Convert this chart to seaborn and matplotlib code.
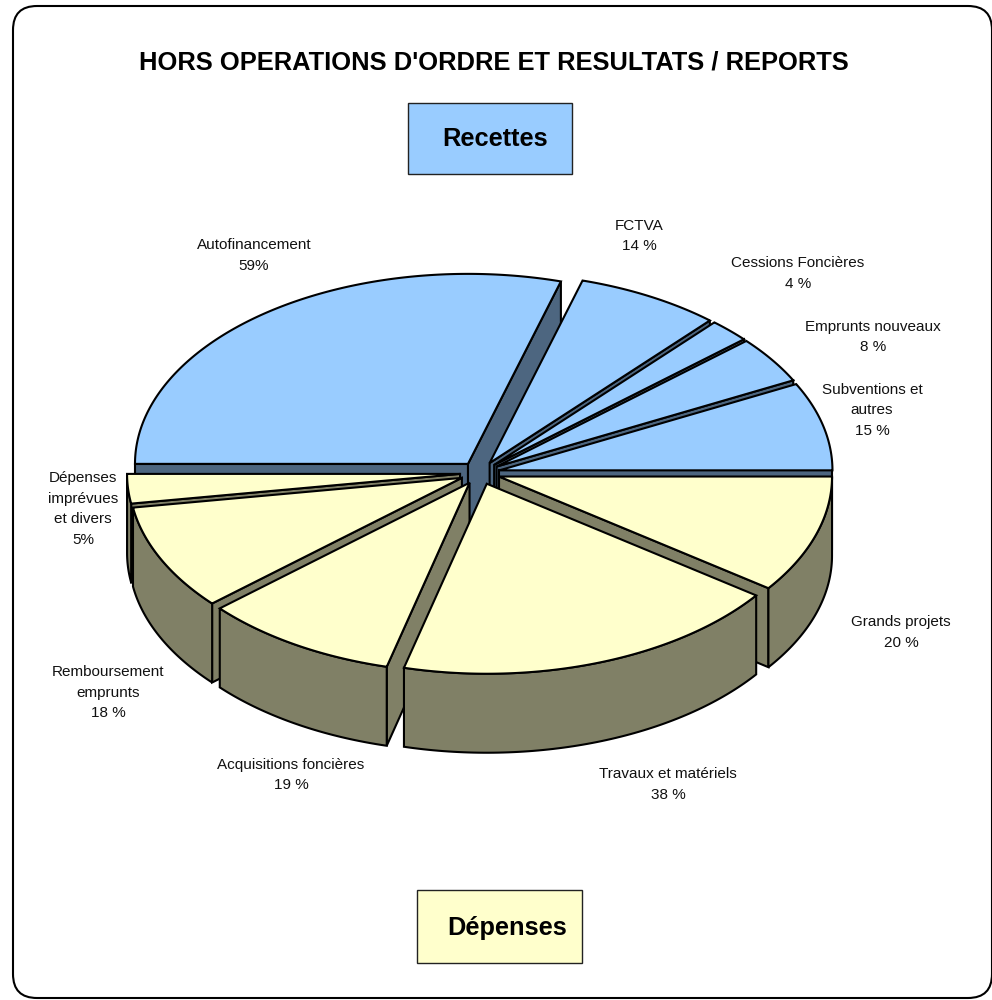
import numpy as np
import matplotlib
matplotlib.use('Agg')
import matplotlib.pyplot as plt
from matplotlib.patches import FancyBboxPatch, Rectangle
import seaborn as sns

# recettes (moitie haute) / depenses (moitie basse)
recettes_labels = ['Subventions et\nautres\n15 %', 'Emprunts nouveaux\n8 %', 'Cessions Foncières\n4 %',
                   'FCTVA\n14 %', 'Autofinancement\n59%']
recettes_values = [15, 8, 4, 14, 59]
depenses_labels = ['Grands projets\n20 %', 'Travaux et matériels\n38 %', 'Acquisitions foncières\n19 %',
                   'Remboursement\nemprunts\n18 %', 'Dépenses\nimprévues\net divers\n5%']
depenses_values = [20, 38, 19, 18, 5]

title = "HORS OPERATIONS D'ORDRE ET RESULTATS / REPORTS"

# placement des etiquettes, meme ordre que les listes
recettes_pos = [(872, 410.5), (873, 337), (798, 273.5), (639, 236), (254, 255.5)]
depenses_pos = [(901, 632.5), (668, 784.5), (291, 775), (108, 692.5), (83, 509)]

sns.set_theme(style='white')
plt.rcParams['font.family'] = ['Liberation Sans', 'DejaVu Sans']

BLUE, BLUE_DARK = '#99CCFF', '#4D6680'
CREAM, CREAM_DARK = '#FFFFCC', '#808066'
CX, CY, RX, RY = 480, 473, 333, 190
DEPTH, EXPLODE = 79, 20
LW = 1.5

fig = plt.figure(figsize=(9.92, 10), dpi=100)
ax = fig.add_axes([0, 0, 1, 1])
ax.set_xlim(0, 992)
ax.set_ylim(1000, 0)
ax.axis('off')


def slices(values, sign):
    # angles en degres, sens horaire a l'ecran : sign=-1 moitie haute, +1 moitie basse
    edges = np.cumsum([0] + list(values)) / sum(values) * 180
    out = []
    for a, b in zip(edges[:-1], edges[1:]):
        a, b = sorted((sign * a, sign * b))
        out.append((a, b))
    return out


def point(tip, ang):
    t = np.radians(ang)
    return tip[0] + RX * np.cos(t), tip[1] + RY * np.sin(t)


def draw_slice(a, b, top, side, z):
    mid = np.radians((a + b) / 2)
    tip = (CX + EXPLODE * np.cos(mid), CY + EXPLODE * RY / RX * np.sin(mid))
    style = dict(edgecolor='black', linewidth=LW, joinstyle='miter', zorder=z)

    # faces de coupe visibles
    for ang, visible in ((a, np.cos(np.radians(a)) < 0), (b, np.cos(np.radians(b)) > 0)):
        if visible:
            px, py = point(tip, ang)
            ax.fill([tip[0], px, px, tip[0]], [tip[1], py, py + DEPTH, tip[1] + DEPTH],
                    facecolor=side, **style)

    # tranche exterieure, seulement la partie avant
    lo, hi = max(a, 0), min(b, 180)
    if hi > lo:
        arc = np.linspace(lo, hi, 80)
        xs, ys = point(tip, arc)
        ax.fill(np.r_[xs, xs[::-1]], np.r_[ys, ys[::-1] + DEPTH], facecolor=side, **style)

    # dessus
    arc = np.linspace(a, b, 160)
    xs, ys = point(tip, arc)
    ax.fill(np.r_[tip[0], xs], np.r_[tip[1], ys], facecolor=top, **style)


# de l'arriere vers l'avant
top_half = slices(recettes_values, -1)
for z, i in enumerate([4, 3, 2, 1, 0]):
    draw_slice(*top_half[i], BLUE, BLUE_DARK, 10 + z)

bottom_half = slices(depenses_values, 1)
for z, i in enumerate([0, 4, 3, 2, 1]):
    draw_slice(*bottom_half[i], CREAM, CREAM_DARK, 20 + z)

# cadre arrondi
ax.add_patch(FancyBboxPatch((13 + 24, 6 + 24), 979 - 48, 992 - 48,
                            boxstyle='round,pad=24,rounding_size=24',
                            facecolor='none', edgecolor='black', linewidth=1.5, zorder=1))

ax.text(493.5, 62, title, ha='center', va='center', fontsize=18.4, fontweight='bold', color='black')

# encadres
ax.add_patch(Rectangle((408, 103), 164, 71, facecolor=BLUE, edgecolor='#222222', linewidth=1, zorder=30))
ax.text(495.5, 139, 'Recettes', ha='center', va='center', fontsize=18.3, fontweight='bold',
        color='black', zorder=31)
ax.add_patch(Rectangle((417, 890), 165, 72.5, facecolor=CREAM, edgecolor='#222222', linewidth=1, zorder=30))
ax.text(507, 927.5, 'Dépenses', ha='center', va='center', fontsize=18.3, fontweight='bold',
        color='black', zorder=31)

for lab, pos in zip(recettes_labels + depenses_labels, recettes_pos + depenses_pos):
    ax.text(pos[0], pos[1], lab, ha='center', va='center', fontsize=10.95,
            linespacing=1.58, color='#111111', zorder=32)

fig.savefig('out.png', dpi=100)
